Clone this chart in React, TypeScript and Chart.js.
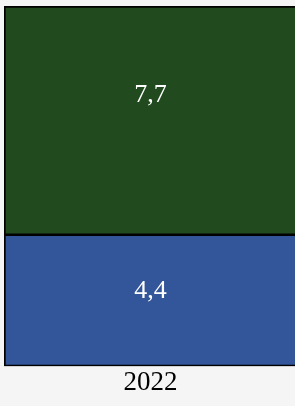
import React, { useEffect, useRef } from "react";
import { Chart, registerables } from "chart.js";

Chart.register(...registerables);

const categories = ["2022"];
const seriesBottom = [4.4];
const seriesTop = [7.7];
const yMax = 12.1;

const labelPlugin = {
  id: "segLabels",
  afterDatasetsDraw(chart: any) {
    const ctx = chart.ctx;
    const fracs = [0.43, 0.39];
    chart.data.datasets.forEach((ds: any, di: number) => {
      const meta = chart.getDatasetMeta(di);
      meta.data.forEach((el: any, i: number) => {
        const v = ds.data[i];
        const top = Math.min(el.y, el.base);
        const bot = Math.max(el.y, el.base);
        const y = top + fracs[di] * (bot - top);
        ctx.save();
        ctx.fillStyle = "#ffffff";
        ctx.font = "26px 'Liberation Serif', serif";
        ctx.textAlign = "center";
        ctx.textBaseline = "middle";
        ctx.fillText(String(v).replace(".", ","), el.x, y);
        ctx.restore();
      });
    });
  },
};

export default function App() {
  const ref = useRef<HTMLCanvasElement | null>(null);
  useEffect(() => {
    if (!ref.current) return;
    const chart = new Chart(ref.current, {
      type: "bar",
      data: {
        labels: categories,
        datasets: [
          {
            data: seriesBottom,
            backgroundColor: "rgb(51,85,153)",
            borderColor: "#000000",
            borderWidth: { top: 1, left: 2, right: 2, bottom: 2 },
            borderSkipped: false,
            barPercentage: 1,
            categoryPercentage: 1,
          },
          {
            data: seriesTop,
            backgroundColor: "rgb(34,74,31)",
            borderColor: "#000000",
            borderWidth: { top: 2, left: 2, right: 2, bottom: 2 },
            borderSkipped: false,
            barPercentage: 1,
            categoryPercentage: 1,
          },
        ],
      },
      options: {
        animation: false,
        responsive: false,
        maintainAspectRatio: false,
        layout: { padding: { left: 4, right: 3, top: 6, bottom: 6 } },
        plugins: { legend: { display: false }, tooltip: { enabled: false } },
        scales: {
          x: {
            stacked: true,
            grid: { display: false, drawTicks: false },
            border: { display: false },
            ticks: {
              color: "#000000",
              padding: 2,
              font: { family: "'Liberation Serif', serif", size: 27, lineHeight: 1.1 },
            },
          },
          y: {
            stacked: true,
            display: false,
            min: 0,
            max: yMax,
          },
        },
      },
      plugins: [labelPlugin],
    });
    return () => chart.destroy();
  }, []);
  return (
    <div
      style={{
        position: "fixed",
        left: 0,
        top: 0,
        width: 295,
        height: 406,
        overflow: "hidden",
        background: "#f5f5f5",
      }}
    >
      <canvas ref={ref} width={300} height={406} style={{ display: "block" }} />
    </div>
  );
}
